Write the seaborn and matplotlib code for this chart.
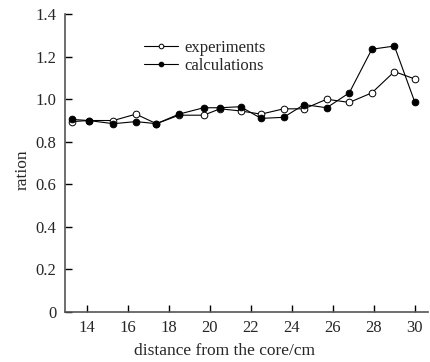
import matplotlib
matplotlib.use("Agg")
import matplotlib.pyplot as plt
import seaborn as sns
import pandas as pd

distance = [13.3, 14.1, 15.3, 16.4, 17.4, 18.5, 19.7, 20.5, 21.5, 22.5, 23.6, 24.6, 25.7, 26.8, 27.9, 29.0, 30.0]
experiments = [0.895, 0.90, 0.90, 0.93, 0.885, 0.925, 0.925, 0.955, 0.945, 0.93, 0.955, 0.955, 1.00, 0.985, 1.03, 1.13, 1.095]
calculations = [0.905, 0.90, 0.885, 0.895, 0.885, 0.93, 0.96, 0.96, 0.965, 0.91, 0.915, 0.975, 0.96, 1.03, 1.235, 1.25, 0.985]
xticks = [14, 16, 18, 20, 22, 24, 26, 28, 30]
yticks = [0, 0.2, 0.4, 0.6, 0.8, 1.0, 1.2, 1.4]
ytick_labels = ["0", "0.2", "0.4", "0.6", "0.8", "1.0", "1.2", "1.4"]

sns.set_style("ticks")
plt.rcParams['font.family'] = ['Liberation Serif', 'DejaVu Serif']
plt.rcParams['xtick.direction'] = 'in'
plt.rcParams['ytick.direction'] = 'in'

df = pd.DataFrame({"distance": distance, "experiments": experiments, "calculations": calculations})

fig = plt.figure(figsize=(4.3, 3.62), dpi=100)
ax = fig.add_axes([0.151, 0.138, 0.844, 0.823])

sns.lineplot(data=df, x="distance", y="experiments", ax=ax, color="black", lw=0.8,
             marker="o", markersize=4.8, markerfacecolor="white", markeredgecolor="black",
             markeredgewidth=0.7, label="experiments")
sns.lineplot(data=df, x="distance", y="calculations", ax=ax, color="black", lw=0.8,
             marker="o", markersize=4.8, markerfacecolor="black", markeredgecolor="black",
             markeredgewidth=0.7, label="calculations")

ax.set_xlim(12.94, 30.63)
ax.set_ylim(0, 1.4)
ax.set_xticks(xticks)
ax.set_yticks(yticks)
ax.set_yticklabels(ytick_labels)
ax.tick_params(axis='both', labelsize=12, length=5, width=1, color='black', pad=6)
for s in ['top', 'right']:
    ax.spines[s].set_visible(False)
for s in ['left', 'bottom']:
    ax.spines[s].set_color('#555555')
    ax.spines[s].set_linewidth(1.2)

ax.set_xlabel("distance from the core/cm", fontsize=12.5)
ax.set_ylabel("ration", fontsize=12.5)
ax.xaxis.set_label_coords(0.44, -0.104)
ax.yaxis.set_label_coords(-0.094, 0.477)

ax.legend(loc="upper left", bbox_to_anchor=(0.2, 0.935), frameon=False, fontsize=12,
          handlelength=2.0, handletextpad=0.4, labelspacing=0.1, borderaxespad=0,
          markerscale=0.7)

fig.savefig("out.png", dpi=100)
